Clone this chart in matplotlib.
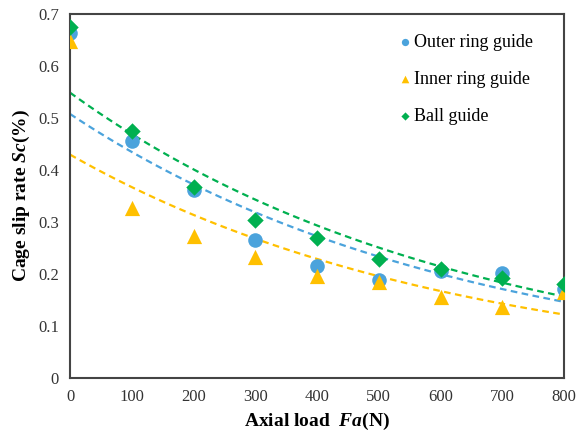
import numpy as np
import matplotlib
matplotlib.use('Agg')
import matplotlib.pyplot as plt

plt.rcParams['font.family'] = ['Liberation Serif', 'DejaVu Serif']
plt.rcParams['mathtext.fontset'] = 'custom'
plt.rcParams['mathtext.it'] = 'Liberation Serif:italic:bold'
plt.rcParams['mathtext.rm'] = 'Liberation Serif:bold'

# axial load (N)
load = [0, 100, 200, 300, 400, 500, 600, 700, 800]

# cage slip rate (%)
outer_ring = [0.663, 0.455, 0.362, 0.265, 0.215, 0.188, 0.206, 0.202, 0.171]
inner_ring = [0.648, 0.327, 0.274, 0.233, 0.196, 0.185, 0.156, 0.137, 0.165]
ball_guide = [0.675, 0.475, 0.368, 0.304, 0.269, 0.229, 0.209, 0.192, 0.181]

labels = ['Outer ring guide', 'Inner ring guide', 'Ball guide']
colors = ['#4BA3DC', '#FFC000', '#00B050']
markers = ['o', '^', 'D']
sizes = [110, 120, 70]


def exp_trend(x, y):
    # exponential trendline (least squares on log y), like excel
    b, lna = np.polyfit(x, np.log(y), 1)
    xs = np.linspace(min(x), max(x), 100)
    return xs, np.exp(lna) * np.exp(b * xs)


fig = plt.figure(figsize=(5.81, 4.36), dpi=100)
ax = fig.add_axes([0.1205, 0.133, 0.8505, 0.835])

series = [outer_ring, inner_ring, ball_guide]
for y, lab, c, m, s in zip(series, labels, colors, markers, sizes):
    ax.scatter(load, y, s=s, marker=m, color=c, label=lab, zorder=3, linewidths=0)
for y, c in zip(series, colors):
    xs, ys = exp_trend(np.array(load), np.array(y))
    ax.plot(xs, ys, '--', color=c, lw=1.6, dashes=(3, 2), zorder=2)

ax.set_xlim(0, 800)
ax.set_ylim(0, 0.7)
ax.set_xticks(load)
ax.set_yticks(np.arange(0, 0.71, 0.1))
ax.set_yticklabels(['0', '0.1', '0.2', '0.3', '0.4', '0.5', '0.6', '0.7'])
ax.tick_params(length=0, labelsize=12, pad=8, colors='#333333')
for sp in ax.spines.values():
    sp.set_color('#444444')
    sp.set_linewidth(1.5)

ax.set_xlabel('Axial load  $Fa$(N)', fontsize=14, fontweight='bold')
ax.set_ylabel('Cage slip rate $Sc$(%)', fontsize=14, fontweight='bold')

leg = ax.legend(loc='upper right', bbox_to_anchor=(0.97, 0.99), frameon=False,
                fontsize=13, markerscale=0.5, handletextpad=0.1, labelspacing=1.1,
                handlelength=0.8)

plt.savefig('out.png', dpi=100)
